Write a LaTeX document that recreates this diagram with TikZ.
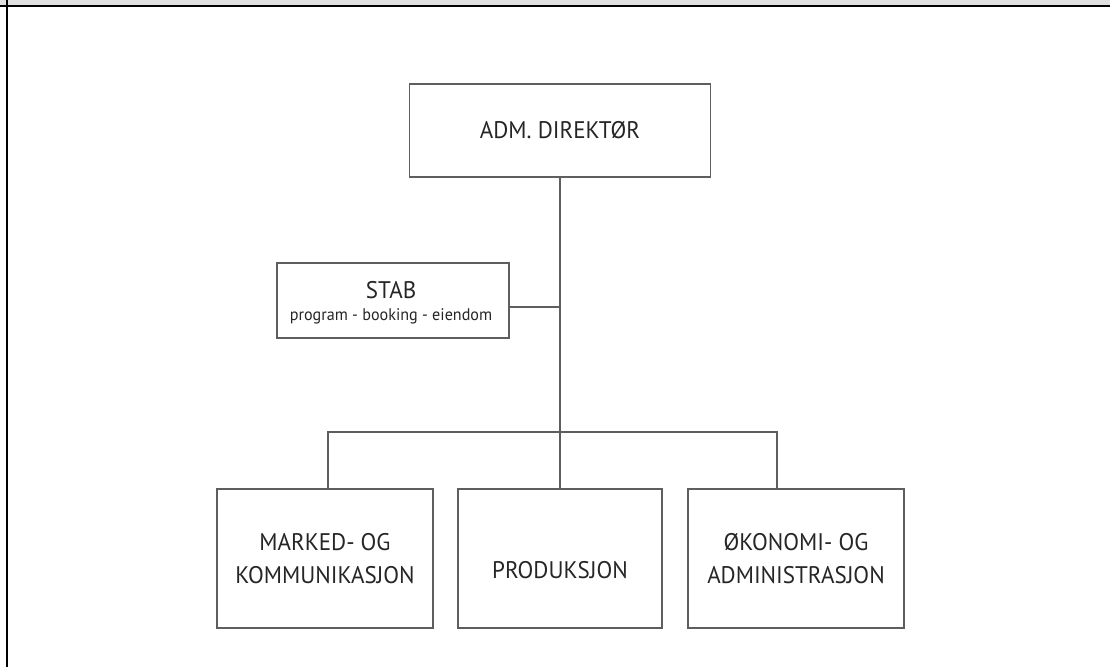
\documentclass[tikz,border=0pt]{standalone}
\usepackage{fontspec}
\setmainfont{PT Sans}[FakeStretch=0.96]
\definecolor{linec}{HTML}{5E5E5E}
\definecolor{textc}{HTML}{262626}
\definecolor{stripc}{HTML}{E0E0E0}
\begin{document}
\begin{tikzpicture}[x=0.75pt,y=-0.75pt,
  box/.style={draw=linec, line width=1.1pt, fill=white, inner sep=0pt, align=center,
    text=textc, font=\fontsize{18}{24.75}\selectfont},
  conn/.style={draw=linec, line width=1.1pt},
  lbl/.style={text=textc, inner sep=0pt, align=center}]
\useasboundingbox (0,0) rectangle (1110,667);
\fill[white] (0,0) rectangle (1110,667);
% frame
\fill[stripc] (0,0) rectangle (1110,5);
\fill[black] (0,4.6) rectangle (1110,7.0);
\fill[black] (5.6,0) rectangle (8.0,667);
% boxes
\node[box, minimum width=301*0.75pt, minimum height=93*0.75pt] (adm) at (560,130.5) {ADM. DIREKTØR};
\node[box, minimum width=232*0.75pt, minimum height=75*0.75pt] (stab) at (393,300.5) {};
\node[lbl, font=\fontsize{18}{20}\selectfont, anchor=base] (stabt) at (391,298) {STAB};
\node[lbl, font=\fontsize{12.6}{14}\selectfont, anchor=base] (stabs) at (391,320) {program - booking - eiendom};
\node[box, minimum width=216*0.75pt, minimum height=139*0.75pt] (m) at (325,558.5) {MARKED- OG\\KOMMUNIKASJON};
\node[box, minimum width=204*0.75pt, minimum height=139*0.75pt] (p) at (560,558.5) {};
\node[lbl, font=\fontsize{18}{24.75}\selectfont] (pt) at (560,570) {PRODUKSJON};
\node[box, minimum width=216*0.75pt, minimum height=139*0.75pt] (o) at (796,558.5) {ØKONOMI- OG\\ADMINISTRASJON};
% connectors
\coordinate (sj) at (560,307);
\coordinate (jl) at (328,432);
\coordinate (jr) at (777,432);
\draw[conn] (adm.south) -- (p.north);
\draw[conn] (sj -| stab.east) -- (sj);
\draw[conn] (m.north -| jl) -- (jl) -- (jr) -- (o.north -| jr);
\end{tikzpicture}
\end{document}
